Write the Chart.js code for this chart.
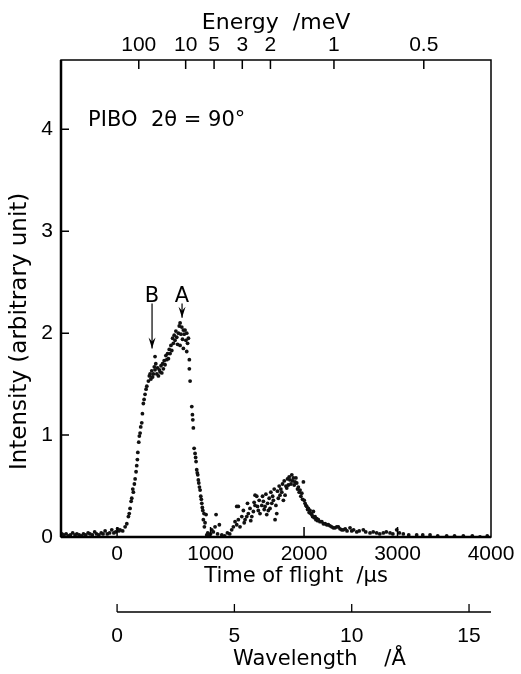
<!DOCTYPE html>
<html>
<head>
<meta charset="utf-8">
<script src="https://cdn.jsdelivr.net/npm/chart.js@4.4.0/dist/chart.umd.min.js"></script>
<style>
  html, body { margin: 0; padding: 0; background: #fff; }
  #wrap { width: 521px; height: 674px; }
</style>
</head>
<body>
<div id="wrap"><canvas id="tof" width="521" height="674"></canvas></div>
<script>
// flat background before the pulse (time of flight in us, intensity in arb. units)
const baseTof = [-590, -570, -545, -520, -500, -475, -450, -430, -405, -380, -360, -335, -310, -290,
  -265, -240, -220, -195, -170, -150, -128, -105, -80, -57, -35, -15, 5, 20];
const baseInt = [0.03, 0.02, 0.03, 0.01, 0.02, 0.04, 0.02, 0.03, 0.02, 0.01, 0.03, 0.02, 0.04, 0.03,
  0.02, 0.05, 0.03, 0.02, 0.04, 0.03, 0.06, 0.03, 0.04, 0.07, 0.04, 0.05, 0.08, 0.06];

// elastic peak (B shoulder + A maximum) and its fall
const peakTof = [32, 60, 86, 104, 121, 130, 139, 150, 157, 168, 174, 185, 193, 203, 210, 217, 222, 232,
  238, 246, 253, 264, 271, 281, 289, 299, 310, 318, 335, 345, 353, 362, 371, 380, 388, 398, 406, 406,
  414, 425, 433, 442, 452, 460, 470, 478, 487, 495, 504, 513, 522, 532, 540, 549, 558, 567, 576, 585,
  594, 602, 611, 620, 629, 638, 647, 656, 665, 674, 674, 683, 692, 700, 709, 709, 718, 727, 736, 745,
  745, 754, 763, 773, 773, 781, 799, 806, 810, 816, 824, 834, 840, 845, 852, 858, 863, 869, 874, 881,
  888, 895, 901, 906, 912, 917, 923, 930, 934, 941, 952, 959, 970, 985, 1000, 1013, 1030, 1048, 1059,
  1075, 1094, 1120, 1150, 1180, 1205];
const peakInt = [0.07, 0.06, 0.10, 0.13, 0.20, 0.23, 0.28, 0.35, 0.38, 0.47, 0.44, 0.52, 0.57, 0.64, 0.70,
  0.76, 0.83, 0.93, 0.99, 1.02, 1.08, 1.12, 1.21, 1.31, 1.35, 1.40, 1.45, 1.48, 1.53, 1.58, 1.60, 1.55,
  1.63, 1.57, 1.60, 1.67, 1.64, 1.77, 1.70, 1.60, 1.66, 1.58, 1.64, 1.62, 1.68, 1.61, 1.70, 1.65, 1.73,
  1.69, 1.78, 1.74, 1.80, 1.75, 1.84, 1.80, 1.88, 1.83, 1.95, 1.90, 1.98, 1.93, 2.02, 1.96, 1.89, 2.00,
  2.07, 2.10, 1.88, 1.99, 2.06, 1.94, 2.03, 1.85, 1.99, 2.03, 1.93, 2.00, 1.82, 1.90, 1.95, 1.74, 1.65,
  1.53, 1.28, 1.20, 1.15, 1.07, 0.87, 0.82, 0.78, 0.74, 0.66, 0.63, 0.61, 0.56, 0.53, 0.49, 0.46, 0.40,
  0.37, 0.33, 0.29, 0.26, 0.17, 0.23, 0.10, 0.14, 0.22, 0.02, 0.04, 0.02, 0.03, 0.07, 0.05, 0.10, 0.22,
  0.03, 0.12, 0.02, 0.01, 0.04, 0.03];

// inelastic hump around 1900 us
const humpTof = [1226, 1244, 1262, 1280, 1280, 1297, 1297, 1315, 1334, 1351, 1360, 1369, 1387, 1395, 1404,
  1422, 1430, 1441, 1458, 1466, 1476, 1476, 1494, 1502, 1511, 1520, 1529, 1548, 1556, 1565, 1574, 1583,
  1592, 1601, 1610, 1618, 1627, 1636, 1645, 1655, 1664, 1672, 1681, 1690, 1699, 1708, 1716, 1725, 1734,
  1743, 1752, 1762, 1770, 1779, 1788, 1797, 1806, 1815, 1823, 1832, 1841, 1850, 1860, 1869, 1878, 1886,
  1895, 1904, 1913, 1922, 1930, 1939, 1948, 1957, 1966, 1976, 1984, 1993, 2002, 2011, 2020, 2029, 2038,
  2046, 2055, 2064, 2073, 2083, 2092, 2100, 2109, 2118, 2127, 2136, 2145, 2153, 2170, 2190, 2207, 2225,
  2243, 2260, 2278, 2296, 2314, 2332, 2350, 2367, 2385, 2403];
const humpInt = [0.07, 0.10, 0.15, 0.12, 0.30, 0.17, 0.30, 0.10, 0.20, 0.26, 0.14, 0.17, 0.20, 0.33, 0.23,
  0.28, 0.16, 0.20, 0.25, 0.34, 0.31, 0.41, 0.40, 0.30, 0.26, 0.36, 0.23, 0.31, 0.40, 0.35, 0.27, 0.30,
  0.42, 0.22, 0.33, 0.26, 0.38, 0.28, 0.44, 0.33, 0.40, 0.36, 0.47, 0.17, 0.31, 0.23, 0.45, 0.38, 0.50,
  0.41, 0.47, 0.44, 0.52, 0.36, 0.55, 0.41, 0.50, 0.48, 0.57, 0.51, 0.59, 0.56, 0.52, 0.61, 0.55, 0.58,
  0.51, 0.54, 0.58, 0.53, 0.47, 0.49, 0.44, 0.46, 0.40, 0.43, 0.37, 0.54, 0.36, 0.33, 0.31, 0.30, 0.27,
  0.28, 0.24, 0.26, 0.23, 0.22, 0.20, 0.25, 0.19, 0.20, 0.17, 0.18, 0.16, 0.17, 0.15, 0.15, 0.13, 0.13,
  0.12, 0.12, 0.11, 0.10, 0.09, 0.09, 0.10, 0.10, 0.08, 0.07];

// long tail
const tailTof = [2420, 2440, 2460, 2492, 2510, 2530, 2564, 2590, 2634, 2660, 2706, 2740, 2777, 2810, 2848,
  2880, 2920, 2950, 2991, 3020, 3062, 3120, 3205, 3270, 3348, 3430, 3526, 3610, 3704, 3800, 3882, 3960];
const tailInt = [0.07, 0.08, 0.06, 0.09, 0.06, 0.07, 0.05, 0.06, 0.07, 0.05, 0.04, 0.05, 0.04, 0.03, 0.04,
  0.05, 0.04, 0.03, 0.07, 0.04, 0.03, 0.02, 0.02, 0.02, 0.02, 0.01, 0.01, 0.01, 0.01, 0.01, 0.00, 0.01];

const tofTicks = [0, 1000, 2000, 3000, 4000];
const intensityTicks = [0, 1, 2, 3, 4];
const energyTicks = [100, 10, 5, 3, 2, 1, 0.5];      // meV
const wavelengthTicks = [0, 5, 10, 15];              // angstrom

// conversions used to place the secondary axes on the time scale
const US_AT_ONE_MEV = 2320;   // t = C / sqrt(E)
const US_PER_ANGSTROM = 251;  // t = K * lambda

const TICK_FAMILY = "'Liberation Sans', Arial, sans-serif";
const TITLE_FAMILY = "'DejaVu Sans', sans-serif";

function toPoints(xs, ys) {
  return xs.map((x, i) => ({ x: x, y: ys[i] }));
}

const points = [].concat(
  toPoints(baseTof, baseInt),
  toPoints(peakTof, peakInt),
  toPoints(humpTof, humpInt),
  toPoints(tailTof, tailInt)
);

const frameAndNotes = {
  id: 'frameAndNotes',
  afterDatasetsDraw(chart) {
    const ctx = chart.ctx;
    const a = chart.chartArea;
    const sx = chart.scales.x, sy = chart.scales.y, se = chart.scales.xe, sw = chart.scales.xw;
    ctx.save();
    ctx.strokeStyle = '#000';
    ctx.fillStyle = '#000';

    // frame
    ctx.lineWidth = 1.5;
    ctx.strokeRect(a.left, a.top, a.right - a.left, a.bottom - a.top);
    ctx.lineWidth = 2.5;
    ctx.beginPath();
    ctx.moveTo(a.left, a.top);
    ctx.lineTo(a.left, a.bottom);
    ctx.moveTo(a.left, a.bottom);
    ctx.lineTo(a.right, a.bottom);
    ctx.stroke();

    // inward tick marks
    ctx.lineWidth = 1.5;
    ctx.beginPath();
    intensityTicks.slice(1).forEach(v => {
      const py = sy.getPixelForValue(v);
      ctx.moveTo(a.left, py);
      ctx.lineTo(a.left + 8, py);
    });
    tofTicks.slice(0, -1).forEach(v => {
      const px = sx.getPixelForValue(v);
      ctx.moveTo(px, a.bottom);
      ctx.lineTo(px, a.bottom - 10);
    });
    energyTicks.forEach(e => {
      const px = se.getPixelForValue(US_AT_ONE_MEV / Math.sqrt(e));
      ctx.moveTo(px, a.top);
      ctx.lineTo(px, a.top + 9);
    });
    ctx.stroke();

    // wavelength axis line
    const wy = sw.top;
    ctx.lineWidth = 1.3;
    ctx.beginPath();
    ctx.moveTo(sw.getPixelForValue(0), wy);
    ctx.lineTo(a.right, wy);
    wavelengthTicks.forEach(l => {
      const px = sw.getPixelForValue(l * US_PER_ANGSTROM);
      ctx.moveTo(px, wy);
      ctx.lineTo(px, wy - 8);
    });
    ctx.stroke();

    // arrows A and B
    const arrow = (t, from, to) => {
      const px = sx.getPixelForValue(t);
      const y0 = sy.getPixelForValue(from), y1 = sy.getPixelForValue(to);
      ctx.lineWidth = 1.2;
      ctx.beginPath();
      ctx.moveTo(px, y0);
      ctx.lineTo(px, y1);
      ctx.stroke();
      ctx.beginPath();
      ctx.moveTo(px, y1);
      ctx.lineTo(px - 3.5, y1 - 11);
      ctx.lineTo(px, y1 - 7);
      ctx.lineTo(px + 3.5, y1 - 11);
      ctx.closePath();
      ctx.fill();
    };
    arrow(374, 2.29, 1.85);
    arrow(695, 2.29, 2.15);

    ctx.font = '21px ' + TITLE_FAMILY;
    ctx.textAlign = 'center';
    ctx.textBaseline = 'alphabetic';
    ctx.fillText('B', sx.getPixelForValue(374), sy.getPixelForValue(2.31));
    ctx.fillText('A', sx.getPixelForValue(695), sy.getPixelForValue(2.31));

    ctx.textAlign = 'left';
    ctx.fillText('PIBO  2θ = 90°', sx.getPixelForValue(-310), sy.getPixelForValue(4.03));
    ctx.restore();
  }
};

const tickFont = { family: TICK_FAMILY, size: 21 };
const titleFont = { family: TITLE_FAMILY, size: 21 };
const noGrid = { display: false, drawTicks: false };

new Chart(document.getElementById('tof'), {
  type: 'scatter',
  data: {
    datasets: [{
      label: 'PIBO',
      data: points,
      pointRadius: 1.9,
      pointBorderWidth: 0,
      pointBackgroundColor: '#111',
      showLine: false
    }]
  },
  options: {
    responsive: false,
    animation: false,
    devicePixelRatio: 1,
    layout: { padding: { left: 0, right: 30, top: 0, bottom: 0 } },
    plugins: { legend: { display: false }, tooltip: { enabled: false } },
    scales: {
      x: {
        type: 'linear', position: 'bottom', weight: 0,
        min: -600, max: 4000,
        grid: noGrid, border: { display: false },
        afterBuildTicks: s => { s.ticks = tofTicks.map(v => ({ value: v })); },
        ticks: { font: tickFont, color: '#000', padding: 5, maxRotation: 0, autoSkip: false,
                 callback: v => String(v) },
        title: { display: true, text: '      Time of flight  /µs', font: titleFont, color: '#000',
                 padding: { top: 0, bottom: 23 } },
        afterFit: s => { s.height = 75; }
      },
      xw: {
        type: 'linear', position: 'bottom', weight: 1,
        min: -600, max: 4000,
        grid: noGrid, border: { display: false },
        afterBuildTicks: s => { s.ticks = wavelengthTicks.map(l => ({ value: l * US_PER_ANGSTROM })); },
        ticks: { font: tickFont, color: '#000', padding: 12, maxRotation: 0, autoSkip: false,
                 callback: (v, i) => String(wavelengthTicks[i]) },
        title: { display: true, text: '             Wavelength    /Å', font: titleFont, color: '#000',
                 padding: { top: 0, bottom: 2 } },
        afterFit: s => { s.height = 62; }
      },
      xe: {
        type: 'linear', position: 'top',
        min: -600, max: 4000,
        grid: noGrid, border: { display: false },
        afterBuildTicks: s => { s.ticks = energyTicks.map(e => ({ value: US_AT_ONE_MEV / Math.sqrt(e) })); },
        ticks: { font: tickFont, color: '#000', padding: 2, maxRotation: 0, autoSkip: false,
                 callback: (v, i) => String(energyTicks[i]) },
        title: { display: true, text: 'Energy  /meV', font: { family: TITLE_FAMILY, size: 22 }, color: '#000',
                 padding: { top: 10, bottom: 0 } },
        afterFit: s => { s.height = 60; }
      },
      y: {
        type: 'linear', position: 'left',
        min: 0, max: 4.68,
        grid: noGrid, border: { display: false },
        afterBuildTicks: s => { s.ticks = intensityTicks.map(v => ({ value: v })); },
        ticks: { font: tickFont, color: '#000', padding: 8, autoSkip: false, callback: v => String(v) },
        title: { display: true, text: 'Intensity (arbitrary unit)         ', font: { family: TITLE_FAMILY, size: 23 },
                 color: '#000', padding: { top: 6, bottom: 0 } },
        afterFit: s => { s.width = 61; }
      }
    }
  },
  plugins: [frameAndNotes]
});
</script>
</body>
</html>
